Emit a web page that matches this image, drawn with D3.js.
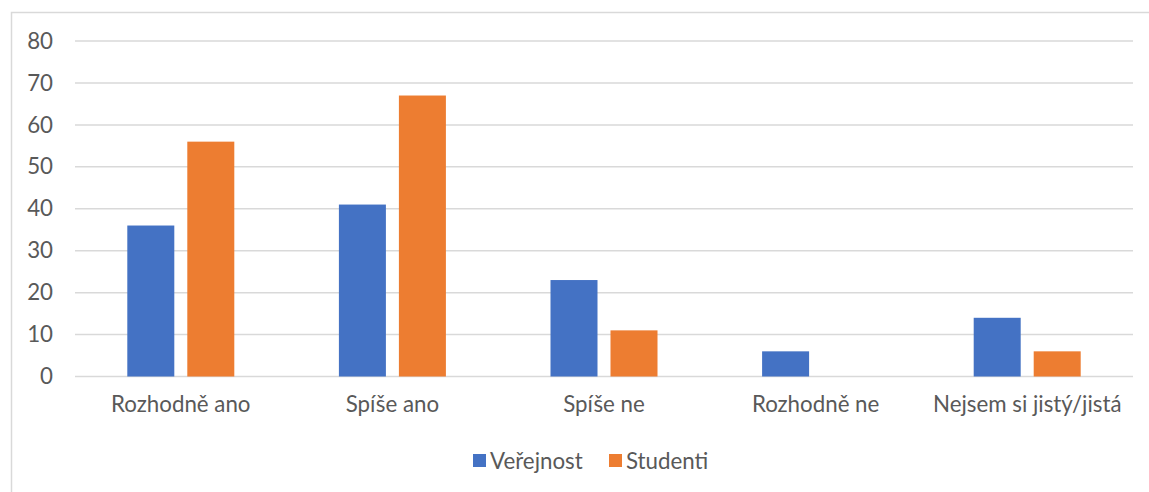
<!DOCTYPE html>
<html><head><meta charset="utf-8">
<script src="https://cdn.jsdelivr.net/npm/d3@7"></script>
<style>body{margin:0;background:#fff;} text{font-family:Lato,sans-serif;fill:#595959;}</style>
</head><body>
<svg id="c" width="1149" height="492"></svg>
<script>
const categories = ["Rozhodně ano","Spíše ano","Spíše ne","Rozhodně ne","Nejsem si jistý/jistá"];
const seriesNames = ["Veřejnost","Studenti"];
const verejnost = [36,41,23,6,14];
const studenti = [56,67,11,0,6];
const yTicks = [0,10,20,30,40,50,60,70,80];
const colors = ["#4472C4","#ED7D31"];
const FS = "22.3px";

const svg = d3.select("#c");
svg.append("rect").attr("x",11.5).attr("y",12.5).attr("width",1160).attr("height",500)
  .attr("fill","none").attr("stroke","#d9d9d9").attr("stroke-width",1.5);

const x = d3.scaleBand().domain(categories).range([75,1133]);
const y = d3.scaleLinear().domain([0,80]).range([376.5,41]);
const barW = 47, gap = 13;

svg.append("g").selectAll("line").data(yTicks).join("line")
  .attr("x1",75).attr("x2",1133).attr("y1",d=>y(d)).attr("y2",d=>y(d))
  .attr("stroke","#d9d9d9").attr("stroke-width",1.5);

const yAxis = d3.axisLeft(y).tickValues(yTicks).tickSize(0).tickPadding(0);
const ya = svg.append("g").attr("transform","translate(53,0)").call(yAxis);
ya.select(".domain").remove();
ya.selectAll("text").style("font-size",FS).attr("fill","#595959").style("font-family","Lato,sans-serif");

const data = categories.map((c,i)=>({c, vals:[verejnost[i],studenti[i]]}));
const groupOffset = (x.bandwidth() - (2*barW+gap))/2;
const g = svg.append("g");
data.forEach(d=>{
  seriesNames.forEach((s,j)=>{
    const v = d.vals[j];
    g.append("rect")
      .attr("x", x(d.c)+groupOffset + j*(barW+gap))
      .attr("width", barW)
      .attr("y", y(v))
      .attr("height", y(0)-y(v))
      .attr("fill", colors[j]);
  });
});

const xAxis = d3.axisBottom(x).tickSize(0).tickPadding(0);
const xa = svg.append("g").attr("transform","translate(0,396)").call(xAxis);
xa.select(".domain").remove();
xa.selectAll("text").style("font-size",FS).attr("fill","#595959").style("font-family","Lato,sans-serif");

const leg = [{n:seriesNames[0],c:colors[0],x:473},{n:seriesNames[1],c:colors[1],x:609}];
leg.forEach(l=>{
  svg.append("rect").attr("x",l.x).attr("y",454).attr("width",13).attr("height",13).attr("fill",l.c);
  svg.append("text").attr("x",l.x+17).attr("y",468.5).style("font-size",FS).text(l.n);
});
</script>
</body></html>
